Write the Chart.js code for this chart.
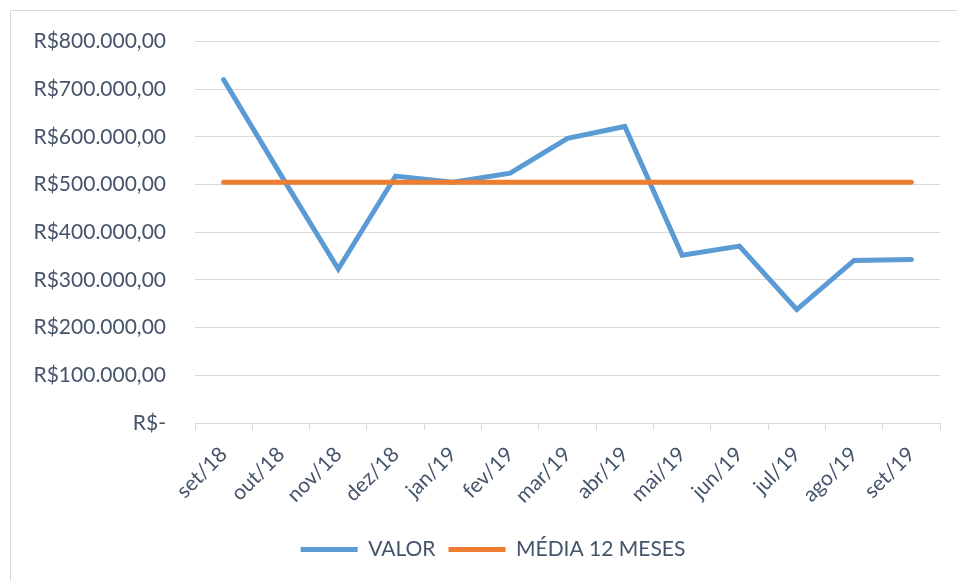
<!DOCTYPE html>
<html>
<head>
<meta charset="utf-8">
<script src="https://cdn.jsdelivr.net/npm/chart.js@4"></script>
<style>
  html, body { margin: 0; padding: 0; background: #fff; }
  #wrap { position: relative; width: 957px; height: 581px; overflow: hidden; }
  #frame { position: absolute; left: 10px; top: 10px; width: 980px; height: 600px; border: 1px solid #d9d9d9; }
  canvas { position: absolute; left: 0; top: 0; }
</style>
</head>
<body>
<div id="wrap">
  <div id="frame"></div>
  <canvas id="chart" width="957" height="581"></canvas>
</div>
<script>
// months
const labels = ['set/18', 'out/18', 'nov/18', 'dez/18', 'jan/19', 'fev/19', 'mar/19',
                'abr/19', 'mai/19', 'jun/19', 'jul/19', 'ago/19', 'set/19'];
// monthly value
const valor = [720000, 520000, 323000, 518000, 505000, 524000, 597000,
               622000, 352000, 371000, 238000, 341000, 343000];
// 12 month average (flat)
const media = [505000, 505000, 505000, 505000, 505000, 505000, 505000,
               505000, 505000, 505000, 505000, 505000, 505000];

const textColor = '#44546a';
const gridColor = '#d9d9d9';
const fontFamily = 'Lato, "Open Sans", sans-serif';

function brl(v) {
    if (v === 0) return 'R$-';
    const s = Math.round(v).toString().replace(/\B(?=(\d{3})+(?!\d))/g, '.');
    return 'R$' + s + ',00';
}

// legend in the original sits a bit right of the plot centre
const shiftLegend = {
    id: 'shiftLegend',
    afterLayout(chart) {
        if (chart.legend) {
            chart.legend.left += 23;
            chart.legend.right += 23;
        }
    }
};

const ctx = document.getElementById('chart').getContext('2d');
new Chart(ctx, {
    type: 'line',
    data: {
        labels: labels,
        datasets: [{
            label: 'VALOR',
            data: valor,
            borderColor: '#5b9bd5',
            backgroundColor: '#5b9bd5',
            borderWidth: 5,
            borderCapStyle: 'round',
            pointRadius: 0,
            order: 1
        }, {
            label: 'MÉDIA 12 MESES',
            data: media,
            borderColor: '#ed7d31',
            backgroundColor: '#ed7d31',
            borderWidth: 5,
            borderCapStyle: 'round',
            pointRadius: 0,
            order: 0
        }]
    },
    options: {
        responsive: false,
        animation: false,
        layout: { padding: { top: 41, right: 17, left: 0, bottom: 11 } },
        plugins: {
            legend: {
                position: 'bottom',
                labels: {
                    usePointStyle: true,
                    pointStyle: 'line',
                    pointStyleWidth: 57,
                    padding: 13,
                    color: textColor,
                    font: { family: fontFamily, size: 21 },
                    sort: (a, b) => a.datasetIndex - b.datasetIndex
                }
            },
            tooltip: { enabled: false }
        },
        scales: {
            x: {
                offset: true,
                grid: { offset: true, drawOnChartArea: false, drawTicks: true, tickLength: 7, color: gridColor },
                border: { color: gridColor },
                ticks: { color: textColor, font: { family: fontFamily, size: 21 }, minRotation: 45, maxRotation: 45, padding: 12 },
                afterFit: (s) => { s.height = 103; }
            },
            y: {
                min: 0,
                max: 800000,
                ticks: { stepSize: 100000, color: textColor, font: { family: fontFamily, size: 21 }, padding: 29, callback: (v) => brl(v) },
                grid: { color: gridColor, drawTicks: false },
                border: { display: false },
                afterFit: (s) => { s.width = 195; }
            }
        }
    },
    plugins: [shiftLegend]
});
</script>
</body>
</html>
